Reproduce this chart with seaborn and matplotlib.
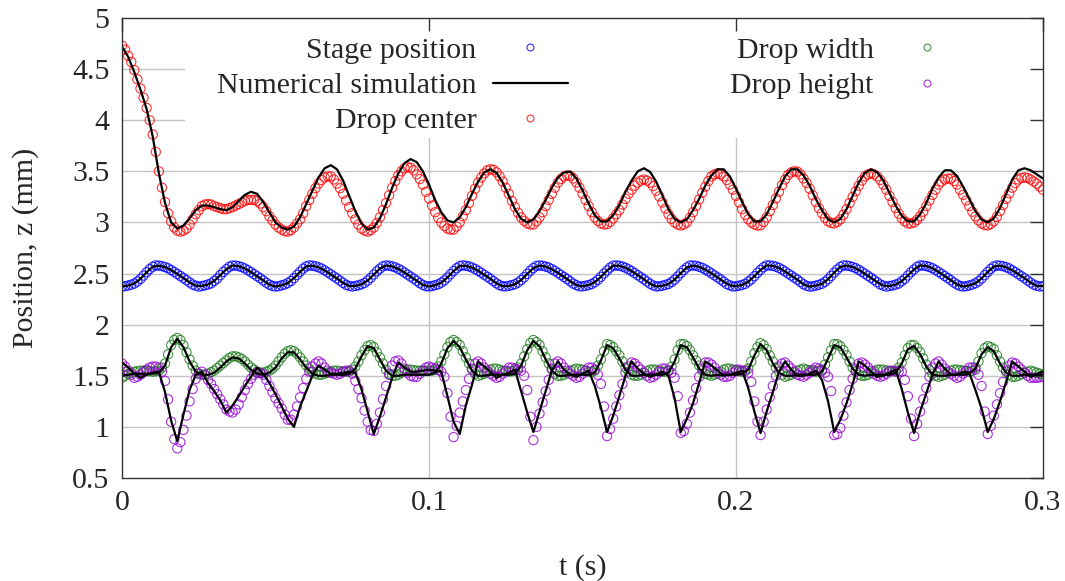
import numpy as np
import pandas as pd
import matplotlib
matplotlib.use("Agg")
import matplotlib.pyplot as plt
import seaborn as sns
from matplotlib.lines import Line2D
from matplotlib.patches import Rectangle

dt_meas = 0.001  # sampling step of the digitised measurements (s)
dt_sim = 0.002

stage_pos = [
    2.373, 2.376, 2.383, 2.391, 2.402, 2.422, 2.448, 2.480, 2.513, 2.543,
    2.567, 2.580, 2.577, 2.573, 2.563, 2.552, 2.534, 2.516, 2.496, 2.476,
    2.456, 2.435, 2.413, 2.392, 2.381, 2.372, 2.378, 2.384, 2.393, 2.404,
    2.427, 2.451, 2.484, 2.516, 2.543, 2.567, 2.579, 2.578, 2.572, 2.563,
    2.550, 2.533, 2.514, 2.494, 2.474, 2.454, 2.433, 2.410, 2.391, 2.378,
    2.373, 2.376, 2.385, 2.393, 2.407, 2.426, 2.455, 2.487, 2.518, 2.548,
    2.570, 2.580, 2.577, 2.571, 2.561, 2.549, 2.531, 2.512, 2.492, 2.472,
    2.452, 2.431, 2.409, 2.389, 2.379, 2.373, 2.379, 2.385, 2.395, 2.408,
    2.431, 2.458, 2.490, 2.522, 2.548, 2.571, 2.579, 2.577, 2.570, 2.561,
    2.546, 2.530, 2.510, 2.490, 2.470, 2.450, 2.429, 2.406, 2.389, 2.376,
    2.374, 2.378, 2.386, 2.395, 2.411, 2.433, 2.461, 2.494, 2.524, 2.553,
    2.574, 2.580, 2.576, 2.570, 2.559, 2.545, 2.527, 2.508, 2.488, 2.468,
    2.448, 2.426, 2.404, 2.386, 2.376, 2.374, 2.380, 2.387, 2.396, 2.412,
    2.436, 2.464, 2.497, 2.528, 2.554, 2.575, 2.579, 2.576, 2.568, 2.559,
    2.543, 2.526, 2.506, 2.486, 2.466, 2.446, 2.424, 2.401, 2.387, 2.375,
    2.375, 2.380, 2.388, 2.397, 2.415, 2.438, 2.468, 2.500, 2.530, 2.558,
    2.577, 2.579, 2.576, 2.568, 2.557, 2.542, 2.524, 2.504, 2.484, 2.464,
    2.444, 2.422, 2.400, 2.384, 2.374, 2.375, 2.381, 2.389, 2.398, 2.416,
    2.440, 2.471, 2.503, 2.534, 2.560, 2.579, 2.578, 2.576, 2.566, 2.556,
    2.539, 2.522, 2.502, 2.482, 2.462, 2.442, 2.420, 2.397, 2.385, 2.373,
    2.376, 2.381, 2.389, 2.399, 2.420, 2.443, 2.474, 2.507, 2.536, 2.563,
    2.580, 2.579, 2.575, 2.567, 2.555, 2.539, 2.520, 2.500, 2.480, 2.460,
    2.440, 2.417, 2.395, 2.380, 2.372, 2.375, 2.382, 2.390, 2.400, 2.420,
    2.445, 2.477, 2.510, 2.540, 2.565, 2.580, 2.578, 2.574, 2.564, 2.553,
    2.536, 2.518, 2.498, 2.478, 2.458, 2.437, 2.415, 2.393, 2.382, 2.372,
    2.378, 2.383, 2.392, 2.402, 2.425, 2.448, 2.481, 2.513, 2.540, 2.566,
    2.580, 2.578, 2.573, 2.564, 2.552, 2.535, 2.516, 2.496, 2.476, 2.456,
    2.435, 2.412, 2.393, 2.378, 2.373, 2.376, 2.384, 2.392, 2.405, 2.424,
    2.451, 2.484, 2.516, 2.546, 2.569, 2.580, 2.577, 2.572, 2.562, 2.550,
    2.532, 2.514, 2.494, 2.474, 2.454, 2.433, 2.411, 2.391, 2.380, 2.373,
    2.378]

drop_center = [
    4.73, 4.69, 4.63, 4.57, 4.49, 4.40, 4.31, 4.22, 4.12, 4.00,
    3.86, 3.69, 3.50, 3.34, 3.20, 3.09, 3.01, 2.95, 2.92, 2.91,
    2.92, 2.94, 2.98, 3.03, 3.08, 3.12, 3.16, 3.175, 3.18, 3.175,
    3.16, 3.15, 3.14, 3.13, 3.13, 3.14, 3.15, 3.165, 3.18, 3.195,
    3.21, 3.22, 3.22, 3.22, 3.21, 3.185, 3.15, 3.11, 3.06, 3.02,
    2.98, 2.95, 2.93, 2.915, 2.91, 2.925, 2.95, 2.99, 3.03, 3.09,
    3.16, 3.22, 3.28, 3.335, 3.38, 3.415, 3.44, 3.45, 3.45, 3.42,
    3.38, 3.335, 3.28, 3.215, 3.15, 3.09, 3.03, 2.98, 2.94, 2.92,
    2.91, 2.925, 2.95, 2.995, 3.05, 3.12, 3.19, 3.265, 3.34, 3.405,
    3.46, 3.50, 3.53, 3.54, 3.535, 3.51, 3.47, 3.425, 3.37, 3.30,
    3.235, 3.165, 3.10, 3.045, 3.00, 2.965, 2.94, 2.93, 2.93, 2.96,
    3.00, 3.06, 3.12, 3.19, 3.26, 3.33, 3.39, 3.44, 3.48, 3.51,
    3.52, 3.515, 3.49, 3.45, 3.40, 3.34, 3.28, 3.21, 3.15, 3.095,
    3.05, 3.015, 2.99, 2.98, 2.98, 3.01, 3.05, 3.10, 3.16, 3.22,
    3.28, 3.34, 3.39, 3.425, 3.45, 3.46, 3.457, 3.43, 3.39, 3.34,
    3.28, 3.22, 3.16, 3.10, 3.05, 3.015, 2.99, 2.98, 2.983, 3.005,
    3.04, 3.08, 3.12, 3.175, 3.23, 3.28, 3.32, 3.36, 3.39, 3.41,
    3.42, 3.41, 3.39, 3.355, 3.31, 3.255, 3.195, 3.135, 3.08, 3.035,
    3.00, 2.98, 2.97, 2.98, 3.00, 3.045, 3.10, 3.16, 3.225, 3.29,
    3.35, 3.405, 3.45, 3.47, 3.48, 3.47, 3.45, 3.415, 3.37, 3.32,
    3.26, 3.195, 3.13, 3.075, 3.03, 3.00, 2.98, 2.97, 2.972, 3.005,
    3.05, 3.11, 3.17, 3.235, 3.30, 3.365, 3.42, 3.465, 3.49, 3.50,
    3.497, 3.47, 3.43, 3.385, 3.33, 3.265, 3.20, 3.14, 3.09, 3.045,
    3.01, 2.995, 2.99, 3.005, 3.03, 3.075, 3.13, 3.19, 3.25, 3.305,
    3.36, 3.41, 3.45, 3.47, 3.48, 3.47, 3.45, 3.415, 3.37, 3.32,
    3.26, 3.20, 3.14, 3.085, 3.04, 3.01, 2.99, 2.99, 3.00, 3.025,
    3.06, 3.105, 3.16, 3.215, 3.27, 3.32, 3.37, 3.40, 3.42, 3.43,
    3.428, 3.405, 3.37, 3.32, 3.27, 3.215, 3.16, 3.105, 3.06, 3.02,
    2.99, 2.975, 2.97, 2.985, 3.01, 3.055, 3.11, 3.17, 3.23, 3.285,
    3.34, 3.385, 3.42, 3.435, 3.44, 3.435, 3.42, 3.40, 3.38, 3.35,
    3.32]

drop_width = [
    1.48, 1.50, 1.52, 1.53, 1.54, 1.545, 1.55, 1.55, 1.55, 1.545,
    1.54, 1.545, 1.55, 1.58, 1.62, 1.71, 1.80, 1.85, 1.87, 1.85,
    1.80, 1.73, 1.66, 1.60, 1.55, 1.52, 1.51, 1.51, 1.52, 1.535,
    1.55, 1.575, 1.60, 1.625, 1.65, 1.675, 1.69, 1.69, 1.68, 1.665,
    1.64, 1.61, 1.58, 1.56, 1.54, 1.53, 1.53, 1.54, 1.55, 1.57,
    1.60, 1.64, 1.68, 1.715, 1.74, 1.75, 1.74, 1.715, 1.68, 1.64,
    1.60, 1.57, 1.54, 1.52, 1.51, 1.51, 1.52, 1.53, 1.54, 1.55,
    1.55, 1.545, 1.54, 1.54, 1.54, 1.56, 1.59, 1.64, 1.70, 1.75,
    1.79, 1.80, 1.78, 1.73, 1.68, 1.62, 1.56, 1.52, 1.50, 1.50,
    1.51, 1.53, 1.55, 1.56, 1.56, 1.555, 1.55, 1.55, 1.55, 1.55,
    1.55, 1.55, 1.56, 1.59, 1.64, 1.71, 1.78, 1.83, 1.85, 1.83,
    1.80, 1.74, 1.68, 1.62, 1.56, 1.52, 1.50, 1.51, 1.52, 1.54,
    1.56, 1.57, 1.57, 1.56, 1.55, 1.545, 1.54, 1.545, 1.55, 1.58,
    1.62, 1.69, 1.76, 1.82, 1.85, 1.83, 1.80, 1.74, 1.68, 1.62,
    1.56, 1.52, 1.50, 1.50, 1.51, 1.53, 1.55, 1.56, 1.57, 1.565,
    1.56, 1.55, 1.54, 1.54, 1.55, 1.60, 1.66, 1.74, 1.81, 1.80,
    1.78, 1.74, 1.70, 1.64, 1.58, 1.54, 1.51, 1.50, 1.50, 1.51,
    1.53, 1.545, 1.56, 1.56, 1.56, 1.55, 1.54, 1.54, 1.55, 1.59,
    1.66, 1.75, 1.81, 1.81, 1.79, 1.75, 1.70, 1.65, 1.60, 1.55,
    1.52, 1.51, 1.50, 1.51, 1.52, 1.54, 1.56, 1.57, 1.57, 1.56,
    1.55, 1.545, 1.54, 1.55, 1.57, 1.64, 1.72, 1.78, 1.82, 1.80,
    1.76, 1.70, 1.64, 1.58, 1.54, 1.51, 1.49, 1.50, 1.51, 1.53,
    1.55, 1.56, 1.57, 1.56, 1.55, 1.545, 1.54, 1.55, 1.56, 1.61,
    1.68, 1.75, 1.81, 1.81, 1.79, 1.75, 1.70, 1.64, 1.58, 1.54,
    1.51, 1.50, 1.50, 1.51, 1.53, 1.545, 1.56, 1.56, 1.56, 1.55,
    1.54, 1.545, 1.55, 1.58, 1.63, 1.70, 1.77, 1.80, 1.80, 1.77,
    1.73, 1.67, 1.61, 1.56, 1.52, 1.50, 1.49, 1.50, 1.51, 1.53,
    1.55, 1.56, 1.56, 1.555, 1.55, 1.545, 1.54, 1.55, 1.58, 1.64,
    1.72, 1.77, 1.79, 1.78, 1.76, 1.70, 1.64, 1.58, 1.54, 1.51,
    1.49, 1.49, 1.50, 1.515, 1.53, 1.54, 1.55, 1.54, 1.53, 1.52,
    1.51]

drop_height = [
    1.62, 1.59, 1.55, 1.51, 1.48, 1.49, 1.51, 1.535, 1.56, 1.58,
    1.59, 1.59, 1.58, 1.54, 1.45, 1.27, 1.05, 0.88, 0.79, 0.85,
    0.97, 1.11, 1.25, 1.37, 1.47, 1.52, 1.54, 1.51, 1.46, 1.42,
    1.37, 1.32, 1.27, 1.22, 1.17, 1.15, 1.14, 1.17, 1.22, 1.29,
    1.36, 1.42, 1.47, 1.51, 1.53, 1.53, 1.51, 1.46, 1.40, 1.34,
    1.28, 1.23, 1.18, 1.12, 1.07, 1.07, 1.12, 1.20, 1.29, 1.38,
    1.47, 1.54, 1.59, 1.62, 1.64, 1.62, 1.58, 1.55, 1.53, 1.52,
    1.51, 1.52, 1.54, 1.55, 1.55, 1.52, 1.45, 1.37, 1.28, 1.16,
    1.05, 0.97, 0.96, 1.03, 1.14, 1.27, 1.40, 1.51, 1.60, 1.64,
    1.65, 1.62, 1.57, 1.53, 1.50, 1.49, 1.49, 1.52, 1.55, 1.58,
    1.59, 1.58, 1.57, 1.555, 1.54, 1.49, 1.33, 1.10, 0.90, 1.01,
    1.14, 1.25, 1.36, 1.47, 1.57, 1.62, 1.64, 1.62, 1.58, 1.55,
    1.52, 1.50, 1.48, 1.49, 1.52, 1.55, 1.58, 1.58, 1.57, 1.56,
    1.55, 1.50, 1.36, 1.10, 0.87, 1.00, 1.13, 1.24, 1.35, 1.46,
    1.57, 1.62, 1.64, 1.62, 1.58, 1.55, 1.52, 1.50, 1.48, 1.49,
    1.52, 1.55, 1.58, 1.58, 1.56, 1.51, 1.42, 1.20, 0.91, 0.98,
    1.08, 1.20, 1.31, 1.42, 1.53, 1.59, 1.63, 1.62, 1.59, 1.56,
    1.53, 1.50, 1.48, 1.49, 1.51, 1.54, 1.57, 1.57, 1.55, 1.53,
    1.48, 1.30, 0.94, 0.96, 1.03, 1.14, 1.26, 1.38, 1.49, 1.57,
    1.63, 1.63, 1.61, 1.58, 1.54, 1.51, 1.49, 1.49, 1.50, 1.53,
    1.56, 1.56, 1.55, 1.55, 1.53, 1.44, 1.25, 1.05, 0.92, 1.05,
    1.17, 1.29, 1.40, 1.50, 1.59, 1.62, 1.63, 1.60, 1.57, 1.54,
    1.51, 1.50, 1.49, 1.51, 1.53, 1.56, 1.58, 1.57, 1.55, 1.53,
    1.49, 1.35, 0.92, 0.93, 0.99, 1.11, 1.24, 1.36, 1.47, 1.56,
    1.62, 1.63, 1.61, 1.58, 1.55, 1.52, 1.50, 1.49, 1.50, 1.52,
    1.55, 1.55, 1.54, 1.54, 1.54, 1.46, 1.30, 1.08, 0.91, 1.03,
    1.15, 1.27, 1.38, 1.49, 1.58, 1.62, 1.64, 1.61, 1.57, 1.54,
    1.52, 1.50, 1.48, 1.49, 1.52, 1.55, 1.58, 1.58, 1.56, 1.51,
    1.40, 1.15, 0.93, 1.01, 1.11, 1.22, 1.33, 1.44, 1.55, 1.60,
    1.63, 1.62, 1.59, 1.56, 1.53, 1.50, 1.48, 1.48, 1.48, 1.485,
    1.49]

# simulation curves (black lines)
stage_sim = [
    2.373, 2.383, 2.402, 2.448, 2.513, 2.567, 2.577, 2.563, 2.534, 2.496,
    2.456, 2.413, 2.381, 2.378, 2.393, 2.427, 2.484, 2.543, 2.579, 2.572,
    2.550, 2.514, 2.474, 2.433, 2.391, 2.373, 2.385, 2.407, 2.455, 2.518,
    2.570, 2.577, 2.561, 2.531, 2.492, 2.452, 2.409, 2.379, 2.379, 2.395,
    2.431, 2.490, 2.548, 2.579, 2.570, 2.546, 2.510, 2.470, 2.429, 2.389,
    2.374, 2.386, 2.411, 2.461, 2.524, 2.574, 2.576, 2.559, 2.527, 2.488,
    2.448, 2.404, 2.376, 2.380, 2.396, 2.436, 2.497, 2.554, 2.579, 2.568,
    2.543, 2.506, 2.466, 2.424, 2.387, 2.375, 2.388, 2.415, 2.468, 2.530,
    2.577, 2.576, 2.557, 2.524, 2.484, 2.444, 2.400, 2.374, 2.381, 2.398,
    2.440, 2.503, 2.560, 2.578, 2.566, 2.539, 2.502, 2.462, 2.420, 2.385,
    2.376, 2.389, 2.420, 2.474, 2.536, 2.580, 2.575, 2.555, 2.520, 2.480,
    2.440, 2.395, 2.372, 2.382, 2.400, 2.445, 2.510, 2.565, 2.578, 2.564,
    2.536, 2.498, 2.458, 2.415, 2.382, 2.378, 2.392, 2.425, 2.481, 2.540,
    2.580, 2.573, 2.552, 2.516, 2.476, 2.435, 2.393, 2.373, 2.384, 2.405,
    2.451, 2.516, 2.569, 2.577, 2.562, 2.532, 2.494, 2.454, 2.411, 2.380,
    2.378]

center_sim = [
    4.72, 4.62, 4.47, 4.30, 4.11, 3.84, 3.48, 3.19, 3.00, 2.94,
    2.97, 3.04, 3.12, 3.165, 3.165, 3.15, 3.13, 3.12, 3.15, 3.21,
    3.27, 3.30, 3.28, 3.20, 3.10, 3.00, 2.95, 2.93, 2.96, 3.05,
    3.18, 3.31, 3.44, 3.53, 3.56, 3.52, 3.41, 3.26, 3.11, 2.99,
    2.93, 2.95, 3.04, 3.18, 3.34, 3.48, 3.58, 3.62, 3.59, 3.50,
    3.37, 3.22, 3.10, 3.02, 3.00, 3.05, 3.15, 3.28, 3.40, 3.49,
    3.52, 3.485, 3.39, 3.26, 3.13, 3.035, 3.00, 3.03, 3.11, 3.22,
    3.34, 3.44, 3.49, 3.497, 3.43, 3.315, 3.185, 3.07, 3.01, 3.01,
    3.07, 3.17, 3.30, 3.41, 3.50, 3.53, 3.495, 3.40, 3.265, 3.13,
    3.035, 3.00, 3.03, 3.12, 3.23, 3.36, 3.46, 3.52, 3.52, 3.45,
    3.33, 3.20, 3.08, 3.01, 3.01, 3.08, 3.20, 3.33, 3.45, 3.52,
    3.52, 3.46, 3.36, 3.23, 3.12, 3.03, 3.00, 3.035, 3.13, 3.26,
    3.39, 3.485, 3.52, 3.49, 3.41, 3.29, 3.165, 3.065, 3.01, 3.01,
    3.08, 3.19, 3.33, 3.44, 3.51, 3.51, 3.455, 3.35, 3.23, 3.11,
    3.03, 3.00, 3.04, 3.14, 3.28, 3.42, 3.51, 3.53, 3.51, 3.47,
    3.43]

width_sim = [
    1.50, 1.51, 1.52, 1.52, 1.52, 1.52, 1.53, 1.60, 1.78, 1.86,
    1.78, 1.64, 1.54, 1.51, 1.51, 1.53, 1.58, 1.64, 1.68, 1.67,
    1.62, 1.56, 1.52, 1.51, 1.53, 1.58, 1.67, 1.73, 1.73, 1.66,
    1.58, 1.52, 1.50, 1.50, 1.51, 1.51, 1.51, 1.52, 1.57, 1.69,
    1.79, 1.77, 1.66, 1.55, 1.50, 1.50, 1.51, 1.51, 1.51, 1.51,
    1.51, 1.53, 1.62, 1.77, 1.84, 1.78, 1.66, 1.55, 1.50, 1.50,
    1.51, 1.51, 1.51, 1.51, 1.52, 1.60, 1.75, 1.84, 1.79, 1.66,
    1.55, 1.50, 1.50, 1.51, 1.51, 1.51, 1.51, 1.53, 1.65, 1.80,
    1.77, 1.67, 1.56, 1.50, 1.50, 1.51, 1.51, 1.51, 1.51, 1.53,
    1.64, 1.80, 1.78, 1.68, 1.57, 1.51, 1.50, 1.51, 1.51, 1.51,
    1.51, 1.52, 1.56, 1.70, 1.81, 1.75, 1.62, 1.53, 1.50, 1.50,
    1.51, 1.51, 1.51, 1.51, 1.54, 1.67, 1.80, 1.78, 1.68, 1.57,
    1.51, 1.50, 1.51, 1.51, 1.51, 1.51, 1.53, 1.62, 1.76, 1.79,
    1.71, 1.59, 1.51, 1.50, 1.50, 1.51, 1.51, 1.51, 1.52, 1.57,
    1.71, 1.78, 1.74, 1.62, 1.53, 1.50, 1.50, 1.51, 1.51, 1.51,
    1.51]

height_sim = [
    1.63, 1.58, 1.52, 1.48, 1.51, 1.53, 1.54, 1.34, 1.06, 0.86,
    1.12, 1.36, 1.51, 1.54, 1.43, 1.35, 1.26, 1.14, 1.21, 1.30,
    1.40, 1.49, 1.58, 1.52, 1.43, 1.32, 1.20, 1.08, 1.00, 1.20,
    1.35, 1.50, 1.60, 1.56, 1.52, 1.52, 1.53, 1.54, 1.53, 1.37,
    1.15, 0.93, 1.10, 1.29, 1.48, 1.63, 1.58, 1.54, 1.54, 1.55,
    1.56, 1.55, 1.54, 1.30, 1.05, 0.93, 1.21, 1.41, 1.64, 1.59,
    1.54, 1.48, 1.51, 1.53, 1.56, 1.35, 1.14, 0.95, 1.15, 1.35,
    1.55, 1.64, 1.56, 1.51, 1.49, 1.52, 1.55, 1.40, 1.19, 0.95,
    1.11, 1.30, 1.50, 1.64, 1.57, 1.52, 1.49, 1.51, 1.54, 1.50,
    1.28, 0.95, 1.08, 1.23, 1.43, 1.64, 1.60, 1.55, 1.50, 1.51,
    1.53, 1.55, 1.38, 1.15, 0.94, 1.15, 1.34, 1.54, 1.64, 1.56,
    1.50, 1.50, 1.52, 1.55, 1.46, 1.25, 0.95, 1.07, 1.23, 1.42,
    1.64, 1.60, 1.54, 1.49, 1.50, 1.53, 1.56, 1.37, 1.14, 0.94,
    1.15, 1.33, 1.51, 1.64, 1.57, 1.51, 1.51, 1.54, 1.53, 1.36,
    1.18, 0.95, 1.08, 1.25, 1.44, 1.64, 1.59, 1.54, 1.49, 1.52,
    1.54]

labels = ["Stage position", "Numerical simulation", "Drop center",
          "Drop width", "Drop height"]
colors = {"Stage position": "#0000ff", "Drop center": "#ff0000",
          "Drop width": "#1c7a1c", "Drop height": "#9400d3"}
x_ticks = [0, 0.1, 0.2, 0.3]
x_tick_labels = ["0", "0.1", "0.2", "0.3"]
y_ticks = [0.5, 1, 1.5, 2, 2.5, 3, 3.5, 4, 4.5, 5]
y_tick_labels = ["0.5", "1", "1.5", "2", "2.5", "3", "3.5", "4", "4.5", "5"]


def frame(name, values, step):
    return pd.DataFrame({"t": np.arange(len(values)) * step, "z": values, "series": name})


measured = pd.concat([frame("Stage position", stage_pos, dt_meas),
                      frame("Drop center", drop_center, dt_meas),
                      frame("Drop width", drop_width, dt_meas),
                      frame("Drop height", drop_height, dt_meas)])
simulated = pd.concat([frame("stage", stage_sim, dt_sim),
                       frame("center", center_sim, dt_sim),
                       frame("width", width_sim, dt_sim),
                       frame("height", height_sim, dt_sim)])

FS = 21.5
sns.set_theme(style="white")
plt.rcParams["font.family"] = ["Liberation Serif", "DejaVu Serif"]
plt.rcParams["font.size"] = FS

fig, ax = plt.subplots(figsize=(10.65, 5.81), dpi=100)
fig.subplots_adjust(left=0.1146, right=0.9793, bottom=0.1773, top=0.969)

# grid drawn by hand so the opaque key can sit between grid and ticks
for xv in x_ticks[1:-1]:
    ax.axvline(xv, color="#c4c4c4", lw=1, zorder=0.5)
for yv in y_ticks[1:-1]:
    ax.axhline(yv, color="#c4c4c4", lw=1, zorder=0.5)

# opaque key area, as in gnuplot
ax.add_patch(Rectangle((0.068, 0.74), 0.932, 0.26, transform=ax.transAxes,
                       facecolor="white", edgecolor="none", zorder=1))

for name, grp in measured.groupby("series", sort=False):
    c = colors[name]
    sns.scatterplot(x=grp["t"], y=grp["z"], marker="o", s=44, fc="none", ec=c,
                    linewidth=0.8, alpha=0.8, legend=False, ax=ax, zorder=2)

for name, grp in simulated.groupby("series", sort=False):
    sns.lineplot(x=grp["t"], y=grp["z"], color="black", lw=1.6, sort=False,
                 estimator=None, legend=False, ax=ax, zorder=3)

ax.set_xlim(0, 0.3)
ax.set_ylim(0.5, 5)
ax.set_xticks(x_ticks)
ax.set_xticklabels(x_tick_labels)
ax.set_yticks(y_ticks)
ax.set_yticklabels(y_tick_labels)
ax.set_xlabel("t (s)", fontsize=FS, labelpad=27)
ax.set_ylabel("Position, z (mm)", fontsize=FS, labelpad=24)
ax.grid(False)
ax.set_axisbelow(False)
ax.tick_params(direction="in", length=9.5, width=1, top=True, right=True,
               color="#333333", labelsize=FS, pad=9)
for sp in ax.spines.values():
    sp.set_color("#333333")
    sp.set_linewidth(1)
    sp.set_zorder(6)

mk = dict(ls="none", marker="o", mfc="none", ms=5, mew=0.8, alpha=0.8)
handles = [
    Line2D([], [], mec=colors["Stage position"], **mk),
    Line2D([], [], color="black", lw=1.6),
    Line2D([], [], mec=colors["Drop center"], **mk),
    Line2D([], [], mec=colors["Drop width"], **mk),
    Line2D([], [], mec=colors["Drop height"], **mk),
]
leg = ax.legend(handles, labels, ncol=2, markerfirst=False, loc="upper left",
                bbox_to_anchor=(0.1031, 0.9587), frameon=False, handlelength=2.5,
                handletextpad=0.55, columnspacing=5.45, labelspacing=0.28,
                borderpad=0, borderaxespad=0, fontsize=FS)
leg.set_zorder(5)

fig.savefig("out.png", dpi=100)
